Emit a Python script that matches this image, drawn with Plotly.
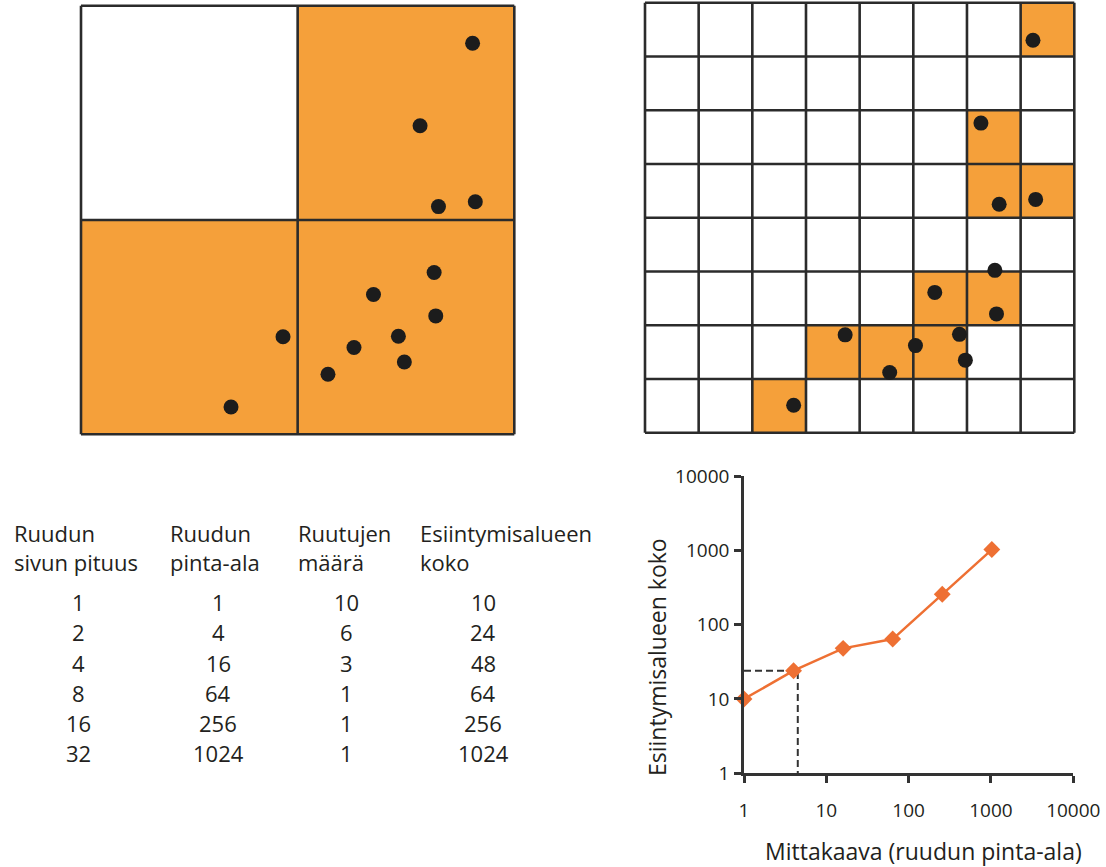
import plotly.graph_objects as go

# ---------------- data ----------------
# occurrence points (grid units, 0..8 on both axes, y from bottom)
point_x = [7.23, 6.26, 6.60, 7.28, 6.52, 5.40, 6.55, 3.73, 5.86, 5.04, 5.97, 4.56, 2.77]
point_y = [7.30, 5.76, 4.25, 4.34, 3.02, 2.61, 2.21, 1.82, 1.83, 1.62, 1.35, 1.12, 0.51]

# occupied cells of the coarse 2x2 grid (rows from bottom)
coarse_occupied = [[1, 1],
                   [0, 1]]
# occupied cells of the fine 8x8 grid (rows from bottom)
fine_occupied = [
    [0, 0, 1, 0, 0, 0, 0, 0],
    [0, 0, 0, 1, 1, 1, 0, 0],
    [0, 0, 0, 0, 0, 1, 1, 0],
    [0, 0, 0, 0, 0, 0, 0, 0],
    [0, 0, 0, 0, 0, 0, 1, 1],
    [0, 0, 0, 0, 0, 0, 1, 0],
    [0, 0, 0, 0, 0, 0, 0, 0],
    [0, 0, 0, 0, 0, 0, 0, 1],
]

# table
header_col1 = ["Ruudun", "sivun pituus"]
header_col2 = ["Ruudun", "pinta-ala"]
header_col3 = ["Ruutujen", "määrä"]
header_col4 = ["Esiintymisalueen", "koko"]
side_length = [1, 2, 4, 8, 16, 32]
cell_area = [1, 4, 16, 64, 256, 1024]
cell_count = [10, 6, 3, 1, 1, 1]
extent_size = [10, 24, 48, 64, 256, 1024]

# log chart
tick_vals = [1, 10, 100, 1000, 10000]
tick_text = ["1", "10", "100", "1000", "10000"]
guide_x = [1, 4.5, 4.5]
guide_y = [24, 24, 1]
x_title = "Mittakaava (ruudun pinta-ala)"
y_title = "Esiintymisalueen koko"

# ---------------- style ----------------
W, H = 1106, 867
FONT = "'Open Sans', Lato, sans-serif"
TXT = "#231f20"
ORANGE_FILL = "#F5A03A"
ORANGE_LINE = "#EE7033"
GRID_COL = "#2b2b2b"
DOT_COL = "#1c1c1c"


def px_x(p):
    return p / W


def px_y(p):
    return 1 - p / H


def grid_axes(x0, x1, y0, y1, pad_px=6):
    """x0,x1: pixel of grid value 0 and 8 (horizontal);
    y0,y1: pixel of grid value 0 (bottom) and 8 (top)."""
    sx = (x1 - x0) / 8.0
    sy = (y0 - y1) / 8.0
    lx = max(0, x0 - pad_px)
    rx = min(W, x1 + pad_px)
    by = min(H, y0 + pad_px)
    ty = max(0, y1 - pad_px)
    dx = [px_x(lx), px_x(rx)]
    dy = [px_y(by), px_y(ty)]
    rngx = [(lx - x0) / sx, (rx - x0) / sx]
    rngy = [(y0 - by) / sy, (y0 - ty) / sy]
    return dx, dy, rngx, rngy


def grid_lines(n):
    xs, ys = [], []
    step = 8.0 / n
    for k in range(n + 1):
        v = k * step
        xs += [v, v, None]
        ys += [0, 8, None]
        xs += [0, 8, None]
        ys += [v, v, None]
    return xs, ys


fig = go.Figure()


def add_grid(occ, xa, ya):
    n = len(occ)
    step = 8.0 / n
    centers = [step * (i + 0.5) for i in range(n)]
    fig.add_trace(go.Heatmap(
        z=occ, x=centers, y=centers, zmin=0, zmax=1,
        colorscale=[[0, "white"], [1, ORANGE_FILL]], showscale=False,
        hoverinfo="skip", xaxis=xa, yaxis=ya))
    gx, gy = grid_lines(n)
    fig.add_trace(go.Scatter(
        x=gx, y=gy, mode="lines", line=dict(color=GRID_COL, width=2.6),
        hoverinfo="skip", showlegend=False, xaxis=xa, yaxis=ya))
    fig.add_trace(go.Scatter(
        x=point_x, y=point_y, mode="markers",
        marker=dict(color=DOT_COL, size=15), cliponaxis=False,
        showlegend=False, xaxis=xa, yaxis=ya))


add_grid(coarse_occupied, "x", "y")
add_grid(fine_occupied, "x2", "y2")

# log chart
fig.add_trace(go.Scatter(
    x=guide_x, y=guide_y, mode="lines",
    line=dict(color="#333333", width=2, dash="7px,4px"),
    showlegend=False, cliponaxis=False, xaxis="x3", yaxis="y3"))
fig.add_trace(go.Scatter(
    x=cell_area, y=extent_size, mode="lines+markers",
    line=dict(color=ORANGE_LINE, width=2.5),
    marker=dict(symbol="diamond", size=13, color=ORANGE_LINE),
    showlegend=False, cliponaxis=False, xaxis="x3", yaxis="y3"))

dx1, dy1, rx1, ry1 = grid_axes(81, 514.3, 434.3, 5.7)
dx2, dy2, rx2, ry2 = grid_axes(645, 1074.3, 432.7, 2.7)
hidden = dict(visible=False, fixedrange=True)

axis_common = dict(
    type="log", range=[0, 4], showline=True, linecolor="#333333", linewidth=2.6,
    ticks="outside", ticklen=7, tickwidth=2.6, tickcolor="#333333",
    tickvals=tick_vals, ticktext=tick_text, showgrid=False, zeroline=False,
    automargin=False, fixedrange=True,
    tickfont=dict(family=FONT, size=19, color=TXT))

fig.update_layout(
    width=W, height=H, autosize=False,
    margin=dict(l=0, r=0, t=0, b=0, pad=0, autoexpand=False),
    paper_bgcolor="white", plot_bgcolor="white", showlegend=False,
    xaxis=dict(domain=dx1, range=rx1, anchor="y", **hidden),
    yaxis=dict(domain=dy1, range=ry1, anchor="x", **hidden),
    xaxis2=dict(domain=dx2, range=rx2, anchor="y2", **hidden),
    yaxis2=dict(domain=dy2, range=ry2, anchor="x2", **hidden),
    xaxis3=dict(domain=[px_x(744), px_x(1073.3)], anchor="y3",
                ticklabelstandoff=11, **axis_common),
    yaxis3=dict(domain=[px_y(773.3), px_y(476)], anchor="x3",
                ticklabelstandoff=1, **axis_common),
)

annotations = []


def text(x, y, s, size=22, xanchor="left", angle=0, align="left"):
    annotations.append(dict(
        x=px_x(x), y=px_y(y), xref="paper", yref="paper", text=s,
        showarrow=False, xanchor=xanchor, yanchor="middle", textangle=angle,
        align=align, font=dict(family=FONT, size=size, color=TXT)))


# table headers (two lines each)
header_x = [12, 168, 296, 418]
headers = [header_col1, header_col2, header_col3, header_col4]
for hx, hdr in zip(header_x, headers):
    text(hx, 547, "<br>".join(hdr))

# table values
col_centers = [78, 218, 346, 483]
row_y = [602, 632, 662.5, 693, 723, 753]
for cx, col in zip(col_centers, [side_length, cell_area, cell_count, extent_size]):
    for ry, v in zip(row_y, col):
        text(cx, ry, str(v), xanchor="center", align="center")

# axis titles of log chart
text(923, 851, x_title, size=23, xanchor="center", align="center")
text(657, 657, y_title, size=23, xanchor="center", angle=-90, align="center")

fig.update_layout(annotations=annotations)
fig.write_html("out.html", config={"displayModeBar": False},
               post_script="document.body.style.margin='0px';")
